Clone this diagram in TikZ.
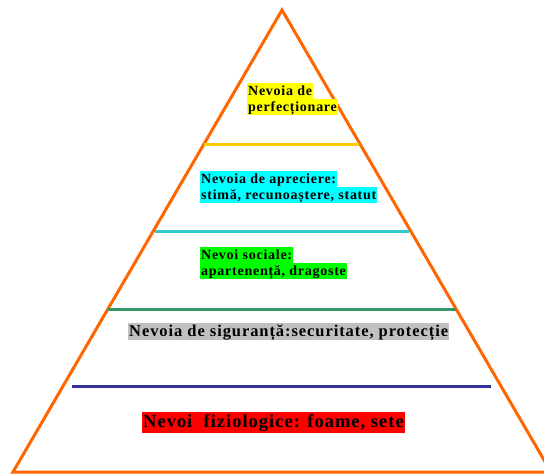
\documentclass[tikz,border=0pt]{standalone}
\usepackage{fontspec}
\setmainfont{Liberation Serif}
\definecolor{tri}{HTML}{FF6600}
\definecolor{lyel}{HTML}{FFCC00}
\definecolor{lcya}{HTML}{33CCCC}
\definecolor{lgrn}{HTML}{339966}
\definecolor{lblu}{HTML}{333399}
\definecolor{bgyel}{HTML}{FFFF00}
\definecolor{bgcya}{HTML}{00FFFF}
\definecolor{bggrn}{HTML}{00FF00}
\definecolor{bggry}{HTML}{C0C0C0}
\definecolor{bgred}{HTML}{FF0000}
\tikzset{
  tribox/.style={draw=tri, line width=3pt, line join=miter},
  level/.style={line width=3pt},
  smalllab/.style={anchor=north west, inner xsep=1pt, inner ysep=0pt,
     text height=12pt, text depth=4pt,
     font=\fontsize{14}{16}\selectfont\bfseries\addfontfeature{LetterSpace=5.3}},
  biglab/.style={anchor=north west, inner xsep=1pt, inner ysep=0pt},
}
\begin{document}
\begin{tikzpicture}[x=1pt,y=-1pt]
\useasboundingbox (0,0) rectangle (544,476);
\coordinate (apex) at (282,10);
\coordinate (bl) at (13,472);
\coordinate (br) at (551,472);
\draw[tribox] (apex) -- (bl) -- (br) -- cycle;
% level lines
\coordinate (y1) at (204,145); \coordinate (y2) at (359,145);
\coordinate (c1) at (155,232); \coordinate (c2) at (409,232);
\coordinate (g1) at (108,309); \coordinate (g2) at (456,309);
\coordinate (b1) at (72,386);  \coordinate (b2) at (491,386);
\draw[level, lyel] (y1) -- (y2);
\draw[level, lcya] (c1) -- (c2);
\draw[level, lgrn] (g1) -- (g2);
\draw[level, lblu] (b1) -- (b2);
% labels
\node[smalllab, fill=bgyel] (p1) at (247,83) {Nevoia de};
\node[smalllab, fill=bgyel] (p2) at (247,99) {perfecționare};
\node[smalllab, fill=bgcya] (a1) at (200,171) {Nevoia de apreciere:};
\node[smalllab, fill=bgcya] (a2) at (200,187) {stimă, recunoaștere, statut};
\node[smalllab, fill=bggrn] (s1) at (200,247) {Nevoi sociale:};
\node[smalllab, fill=bggrn] (s2) at (200,263) {apartenență, dragoste};
\node[biglab, fill=bggry, text height=13pt, text depth=4pt,
  font=\fontsize{16.5}{18}\selectfont\bfseries\addfontfeature{LetterSpace=5.6}] (n1) at (128,323)
  {Nevoia de siguranță:securitate, protecție};
\node[biglab, fill=bgred, text height=15pt, text depth=6pt,
  font=\fontsize{18.5}{20}\selectfont\bfseries\addfontfeature{LetterSpace=5.4}] (f1) at (142,412)
  {Nevoi\ \ fiziologice: foame, sete};
\end{tikzpicture}
\end{document}
